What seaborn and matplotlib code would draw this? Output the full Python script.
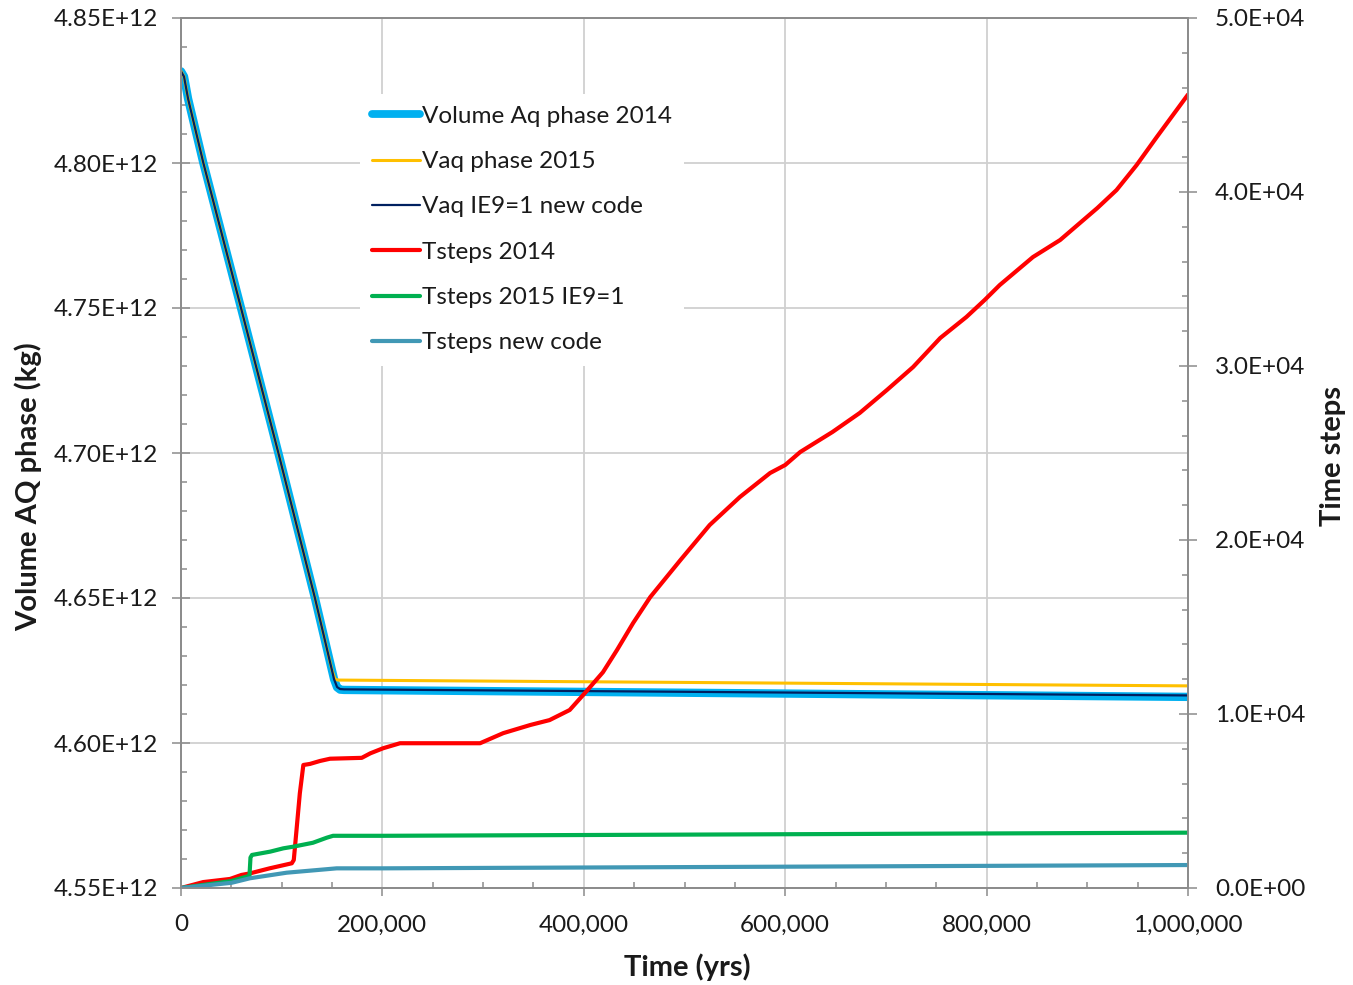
import numpy as np
import pandas as pd
import matplotlib
matplotlib.use("Agg")
import matplotlib.pyplot as plt
import seaborn as sns
from matplotlib.ticker import FuncFormatter, MultipleLocator
from matplotlib.lines import Line2D

sns.set_theme(style="white")
plt.rcParams['font.family'] = ['Lato', 'DejaVu Sans']

# ---------------- data ----------------
# Volume of aqueous phase (kg), left axis
vol2014_t = [0, 3000, 7000, 22200, 59600, 96700, 133000, 152000, 155000, 158000, 162000, 1000000]
vol2014_v = [4.8316e12, 4.8298e12, 4.8222e12, 4.8000e12, 4.7500e12, 4.7000e12, 4.6500e12,
             4.6220e12, 4.6192e12, 4.6184e12, 4.6183e12, 4.6159e12]

vaq2015_t = [0, 3000, 7000, 22200, 59600, 96700, 133000, 150000, 153000, 156000, 1000000]
vaq2015_v = [4.8316e12, 4.8298e12, 4.8222e12, 4.8000e12, 4.7500e12, 4.7000e12, 4.6500e12,
             4.6250e12, 4.6220e12, 4.6217e12, 4.6197e12]

vaqnew_t = [0, 3000, 7000, 22200, 59600, 96700, 133000, 152000, 155000, 158000, 162000, 1000000]
vaqnew_v = [4.8316e12, 4.8298e12, 4.8222e12, 4.8000e12, 4.7500e12, 4.7000e12, 4.6500e12,
            4.6220e12, 4.6193e12, 4.6186e12, 4.6185e12, 4.6164e12]

# Time steps, right axis
ts2014_t = [0, 22000, 48700, 60000, 68500, 88000, 110000, 112000, 115000, 118000, 121500, 128000,
            138000, 148000, 179500, 188000, 200600, 217500, 297000, 320000, 347000, 366000, 386000,
            401000, 419000, 433000, 449000, 466000, 496000, 525000, 555000, 585000, 600000, 615000,
            647000, 674000, 701000, 727000, 754000, 780000, 798000, 813000, 846000, 873000, 910000,
            929000, 949000, 969000, 1000000]
ts2014_v = [0, 340, 520, 750, 840, 1130, 1420, 1610, 3520, 5440, 7070, 7130,
            7300, 7430, 7480, 7740, 8030, 8320, 8320, 8900, 9370, 9650, 10230,
            11200, 12400, 13680, 15230, 16720, 18850, 20860, 22470, 23850, 24310, 25060,
            26210, 27300, 28620, 29940, 31610, 32820, 33790, 34650, 36260, 37240, 39080,
            40110, 41550, 43160, 45600]

ts2015_t = [0, 50000, 68000, 69000, 70500, 88600, 101600, 111000, 131000, 144700, 151000, 200600, 1000000]
ts2015_v = [0, 400, 700, 1750, 1900, 2090, 2280, 2370, 2600, 2890, 3000, 3000, 3180]

tsnew_t = [0, 50300, 68500, 105000, 154600, 200000, 1000000]
tsnew_v = [0, 300, 560, 880, 1130, 1130, 1320]

labels = ["Volume Aq phase 2014", "Vaq phase 2015", "Vaq IE9=1 new code",
          "Tsteps 2014", "Tsteps 2015 IE9=1", "Tsteps new code"]

x_ticks = [0, 200000, 400000, 600000, 800000, 1000000]
left_ticks = [4.55e12, 4.60e12, 4.65e12, 4.70e12, 4.75e12, 4.80e12, 4.85e12]
right_ticks = [0, 10000, 20000, 30000, 40000, 50000]

# ---------------- styling ----------------
c_blue = "#00B0F0"
c_yellow = "#FFC000"
c_navy = "#002060"
c_red = "#FF0000"
c_green = "#00B050"
c_teal = "#4198B5"
spine_c = "#8C8C8C"
grid_c = "#D0D0D0"
txt_c = "#1A1A1A"

fig = plt.figure(figsize=(13.53, 9.85), dpi=100)
ax = fig.add_axes([181/1353, 1 - 888/985, (1188-181)/1353, (888-18)/985])
ax2 = ax.twinx()

def df(t, v):
    return pd.DataFrame({"t": t, "v": v})

sns.lineplot(data=df(vol2014_t, vol2014_v), x="t", y="v", ax=ax, color=c_blue, linewidth=6.0,
             estimator=None, sort=False, solid_capstyle="round", solid_joinstyle="round")
sns.lineplot(data=df(vaq2015_t, vaq2015_v), x="t", y="v", ax=ax, color=c_yellow, linewidth=2.2,
             estimator=None, sort=False)
sns.lineplot(data=df(vaqnew_t, vaqnew_v), x="t", y="v", ax=ax, color=c_navy, linewidth=1.6,
             estimator=None, sort=False)

sns.lineplot(data=df(ts2014_t, ts2014_v), x="t", y="v", ax=ax2, color=c_red, linewidth=3.0,
             estimator=None, sort=False, solid_joinstyle="round")
sns.lineplot(data=df(ts2015_t, ts2015_v), x="t", y="v", ax=ax2, color=c_green, linewidth=3.0,
             estimator=None, sort=False)
sns.lineplot(data=df(tsnew_t, tsnew_v), x="t", y="v", ax=ax2, color=c_teal, linewidth=3.0,
             estimator=None, sort=False)

ax.set_xlim(0, 1000000)
ax.set_ylim(4.55e12, 4.85e12)
ax2.set_ylim(0, 50000)

ax.set_xticks(x_ticks)
ax.xaxis.set_minor_locator(MultipleLocator(50000))
ax.set_yticks(left_ticks)
ax.yaxis.set_minor_locator(MultipleLocator(0.01e12))
ax2.set_yticks(right_ticks)
ax2.yaxis.set_minor_locator(MultipleLocator(2000))

ax.xaxis.set_major_formatter(FuncFormatter(lambda v, p: f"{int(round(v)):,}"))
ax.yaxis.set_major_formatter(FuncFormatter(lambda v, p: f"{v:.2E}"))
ax2.yaxis.set_major_formatter(FuncFormatter(lambda v, p: f"{v:.1E}"))

ax.grid(True, which="major", color=grid_c, linewidth=1.3)
ax.set_axisbelow(True)

for a in (ax, ax2):
    for s in a.spines.values():
        s.set_color(spine_c)
        s.set_linewidth(1.3)
        s.set_visible(True)

fs = 17.5
ax.tick_params(axis="x", which="major", direction="out", length=6, width=1.1, color=spine_c,
               labelsize=fs, pad=13, bottom=True)
ax.tick_params(axis="x", which="minor", direction="in", length=4.5, width=1.1, color=spine_c, bottom=True)
ax.tick_params(axis="y", which="major", direction="inout", length=13, width=1.1, color=spine_c,
               labelsize=fs, pad=10, left=True)
ax.tick_params(axis="y", which="minor", direction="in", length=4.5, width=1.1, color=spine_c, left=True)
ax2.tick_params(axis="y", which="major", direction="inout", length=13, width=1.1, color=spine_c,
                labelsize=fs, pad=13, right=True)
ax2.tick_params(axis="y", which="minor", direction="in", length=4.5, width=1.1, color=spine_c, right=True)

for lab in ax.get_xticklabels() + ax.get_yticklabels() + ax2.get_yticklabels():
    lab.set_color(txt_c)

ax.set_xlabel("Time (yrs)", fontsize=21, fontweight="bold", color=txt_c)
ax.set_ylabel("Volume AQ phase (kg)", fontsize=21, fontweight="bold", color=txt_c)
ax2.set_ylabel("Time steps", fontsize=21, fontweight="bold", color=txt_c)
ax.xaxis.set_label_coords(0.503, -0.091)
ax.yaxis.set_label_coords(-0.152, 0.461)
ax2.yaxis.set_label_coords(1.144, 0.497)
ax.xaxis.label.set_verticalalignment("center")
ax.yaxis.label.set_verticalalignment("center")
ax2.yaxis.label.set_verticalalignment("center")

handles = [
    Line2D([], [], color=c_blue, linewidth=5.6, solid_capstyle="round"),
    Line2D([], [], color=c_yellow, linewidth=2.2),
    Line2D([], [], color=c_navy, linewidth=1.6),
    Line2D([], [], color=c_red, linewidth=3.0),
    Line2D([], [], color=c_green, linewidth=3.0),
    Line2D([], [], color=c_teal, linewidth=3.0),
]
leg = ax2.legend(handles, labels, loc="upper left", bbox_to_anchor=(0.178, 0.913),
                 fontsize=fs, frameon=True, facecolor="white", edgecolor="none", framealpha=1,
                 handlelength=1.95, handletextpad=0.1, labelspacing=1.0, borderpad=0.5,
                 borderaxespad=0)
for t in leg.get_texts():
    t.set_color(txt_c)

if ax.get_legend() is not None:
    ax.get_legend().remove()

fig.savefig("out.png", dpi=100)
